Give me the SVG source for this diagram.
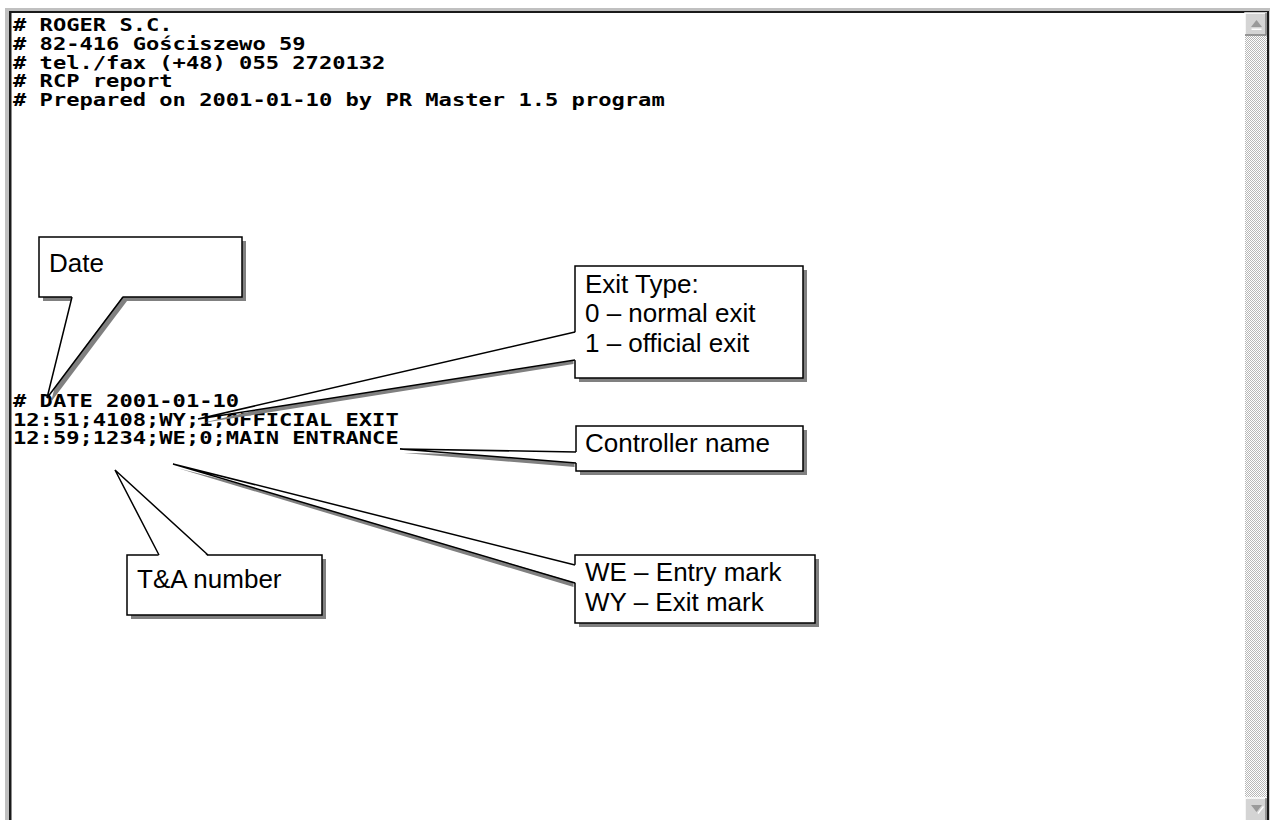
<svg xmlns="http://www.w3.org/2000/svg" width="1273" height="820" viewBox="0 0 1273 820">
  <defs>
    <pattern id="track" width="2" height="2" patternUnits="userSpaceOnUse">
      <rect width="2" height="2" fill="#ffffff"/>
      <rect width="1" height="1" fill="#b8b8b8"/>
      <rect x="1" y="1" width="1" height="1" fill="#b8b8b8"/>
    </pattern>
    <style>
      .mono { font-family: "DejaVu Sans Mono", "Liberation Mono", monospace; font-weight: bold; font-size: 17px; fill: #000; }
      .lbl { font-family: "Liberation Sans", Arial, sans-serif; font-size: 26px; fill: #000; }
      .box { fill: #fff; stroke: #000; stroke-width: 1.5; }
      .shadow { fill: #808080; stroke: none; }
      .ptrfill { fill: #fff; stroke: none; }
      .ptrline { fill: none; stroke: #000; stroke-width: 1.5; stroke-linejoin: miter; }
      .btn { fill: #d4d4d4; }
      .arrow { fill: #9a9a9a; }
      .arrowhl { fill: #ffffff; }
    </style>
  </defs>

  <rect width="1273" height="820" fill="#ffffff"/>

  <!-- window frame -->
  <g id="frame">
    <rect x="5" y="8" width="1265" height="3" fill="#c0c0c0"/>
    <rect x="5" y="8" width="4" height="812" fill="#c0c0c0"/>
    <rect x="9" y="11" width="1260" height="2" fill="#1a1a1a"/>
    <rect x="9" y="11" width="2.5" height="809" fill="#1a1a1a"/>
    <rect x="1267" y="11" width="2.2" height="809" fill="#1a1a1a"/>
  </g>

  <!-- scrollbar -->
  <g id="scrollbar">
    <rect x="1245" y="35" width="22" height="763" fill="url(#track)"/>
    <rect x="1245" y="13" width="22" height="22" class="btn"/>
    <path d="M1245 35 V13 H1267" fill="none" stroke="#ffffff" stroke-width="1.5"/>
    <path d="M1266 13 V35 H1245" fill="none" stroke="#808080" stroke-width="1.5"/>
    <polygon class="arrowhl" points="1251.5,28.5 1261.5,28.5 1261.5,30 1251.5,30"/>
    <polygon class="arrow" points="1256.5,20 1251,27 1262,27"/>
    <rect x="1245" y="798" width="22" height="22" class="btn"/>
    <path d="M1245 820 V798 H1267" fill="none" stroke="#ffffff" stroke-width="1.5"/>
    <path d="M1266 798 V820" fill="none" stroke="#808080" stroke-width="1.5"/>
    <polygon class="arrowhl" points="1257.5,813 1263,806 1264,807 1258.5,814"/>
    <polygon class="arrow" points="1251,805 1262,805 1256.5,812"/>
  </g>

  <!-- report text -->
  <g id="header">
    <text class="mono" x="13" y="31" textLength="159.6" lengthAdjust="spacingAndGlyphs"># ROGER S.C.</text>
    <text class="mono" x="13" y="49.8" textLength="292.6" lengthAdjust="spacingAndGlyphs"># 82-416 Gościszewo 59</text>
    <text class="mono" x="13" y="68.5" textLength="372.4" lengthAdjust="spacingAndGlyphs"># tel./fax (+48) 055 2720132</text>
    <text class="mono" x="13" y="87.3" textLength="159.6" lengthAdjust="spacingAndGlyphs"># RCP report</text>
    <text class="mono" x="13" y="106" textLength="651.7" lengthAdjust="spacingAndGlyphs"># Prepared on 2001-01-10 by PR Master 1.5 program</text>
  </g>
  <g id="records">
    <text class="mono" x="13" y="407" textLength="226.1" lengthAdjust="spacingAndGlyphs"># DATE 2001-01-10</text>
    <text class="mono" x="13" y="425.7" textLength="385.7" lengthAdjust="spacingAndGlyphs">12:51;4108;WY;1;OFFICIAL EXIT</text>
    <text class="mono" x="13" y="444.4" textLength="385.7" lengthAdjust="spacingAndGlyphs">12:59;1234;WE;0;MAIN ENTRANCE</text>
  </g>

  <!-- callout boxes -->
  <g id="callout-date">
    <rect class="shadow" x="43" y="241" width="203" height="60"/>
    <rect class="box" x="39" y="237" width="203" height="60"/>
    <text class="lbl" x="49" y="272">Date</text>
  </g>
  <g id="callout-exit-type">
    <rect class="shadow" x="579" y="270" width="228" height="112"/>
    <rect class="box" x="575" y="266" width="228" height="112"/>
    <text class="lbl" x="585" y="293">Exit Type:</text>
    <text class="lbl" x="585" y="322">0 – normal exit</text>
    <text class="lbl" x="585" y="352">1 – official exit</text>
  </g>
  <g id="callout-controller">
    <rect class="shadow" x="580" y="430" width="227" height="45"/>
    <rect class="box" x="576" y="426" width="227" height="45"/>
    <text class="lbl" x="585" y="452">Controller name</text>
  </g>
  <g id="callout-ta-number">
    <rect class="shadow" x="131" y="559" width="195" height="60"/>
    <rect class="box" x="127" y="555" width="195" height="60"/>
    <text class="lbl" x="137" y="588">T&amp;A number</text>
  </g>
  <g id="callout-we-wy">
    <rect class="shadow" x="579" y="559" width="240" height="68"/>
    <rect class="box" x="575" y="555" width="240" height="68"/>
    <text class="lbl" x="585" y="581">WE – Entry mark</text>
    <text class="lbl" x="585" y="611">WY – Exit mark</text>
  </g>

  <!-- callout pointers -->
  <g id="connectors">
    <!-- Date -->
    <polygon class="shadow" points="51,402 76,301 127,301"/>
    <polygon class="ptrfill" points="47,398 72,296 123,296"/>
    <polyline class="ptrline" points="72,297 47,398 123,297"/>
    <!-- Exit Type -->
    <polygon class="shadow" points="202,423 573.5,336 573.5,364"/>
    <polygon class="ptrfill" points="198,419 576.5,332 576.5,360"/>
    <polyline class="ptrline" points="575,332 198,419 575,360"/>
    <!-- Controller name -->
    <polygon class="shadow" points="404,453 574.5,456 574.5,467"/>
    <polygon class="ptrfill" points="400,449 577.5,452 577.5,463"/>
    <polyline class="ptrline" points="576,452 400,449 576,463"/>
    <!-- T&A number -->
    <polygon class="ptrfill" points="115,470 159,556.5 208,556.5"/>
    <polyline class="ptrline" points="159,555 115,470 208,555"/>
    <!-- WE / WY -->
    <polygon class="shadow" points="177,468 573.5,569 573.5,587"/>
    <polygon class="ptrfill" points="173,464 576.5,565 576.5,583"/>
    <polyline class="ptrline" points="575,565 173,464 575,583"/>
  </g>
</svg>
